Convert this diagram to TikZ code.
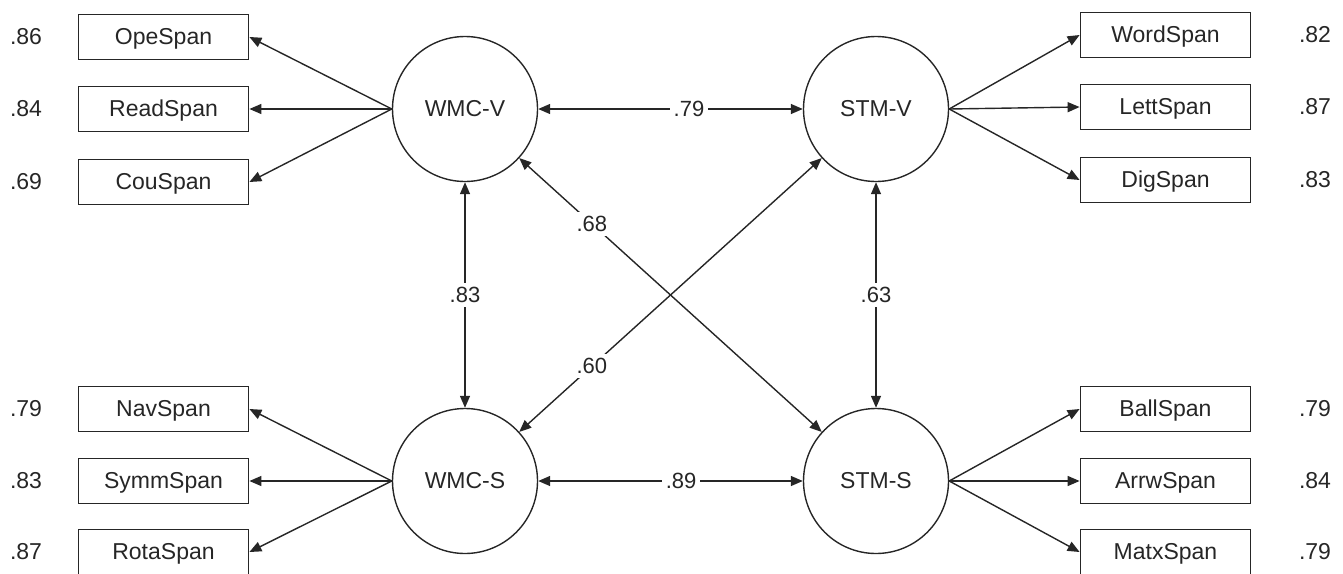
\documentclass[tikz,border=0pt]{standalone}
\usepackage{fontspec}
\setmainfont{Liberation Sans}
\usetikzlibrary{arrows.meta}
\begin{document}
\begin{tikzpicture}[x=1pt,y=-1pt,
  every node/.style={font=\fontsize{23}{27}\selectfont, text=black!85},
  obs/.style={draw=black!85, line width=1.8pt, minimum width=170pt, minimum height=45pt, inner sep=0pt, text height=16pt, text depth=2pt},
  lat/.style={draw=black!85, circle, line width=1.4pt, minimum size=145pt, inner sep=0pt},
  arr/.style={draw=black!85, line width=1.4pt, -{Triangle[length=12pt,width=10pt]}},
  biarr/.style={draw=black!85, line width=1.4pt, {Triangle[length=12pt,width=10pt]}-{Triangle[length=12pt,width=10pt]}},
  lab/.style={fill=white, inner sep=4pt, font=\fontsize{22}{26}\selectfont}]
\useasboundingbox (0,0) rectangle (1343,573);

% latent variables
\node[lat] (wmcv) at (465,109) {WMC-V};
\node[lat] (stmv) at (876,109) {STM-V};
\node[lat] (wmcs) at (465,481) {WMC-S};
\node[lat] (stms) at (876,481) {STM-S};

% left indicators
\node[obs] (ope)  at (163.5,37)  {OpeSpan};
\node[obs] (read) at (163.5,109) {ReadSpan};
\node[obs] (cou)  at (163.5,182) {CouSpan};
\node[obs] (nav)  at (163.5,409) {NavSpan};
\node[obs] (symm) at (163.5,481) {SymmSpan};
\node[obs] (rota) at (163.5,552) {RotaSpan};

% right indicators
\node[obs] (word) at (1165.5,35)  {WordSpan};
\node[obs] (lett) at (1165.5,107) {LettSpan};
\node[obs] (dig)  at (1165.5,180) {DigSpan};
\node[obs] (ball) at (1165.5,409) {BallSpan};
\node[obs] (arrw) at (1165.5,481) {ArrwSpan};
\node[obs] (matx) at (1165.5,552) {MatxSpan};

% loadings
\node (l1) at (26,37)  {.86};
\node (l2) at (26,109) {.84};
\node (l3) at (26,182) {.69};
\node (l4) at (26,409) {.79};
\node (l5) at (26,481) {.83};
\node (l6) at (26,552) {.87};
\node (r1) at (1315,35)  {.82};
\node (r2) at (1315,107) {.87};
\node (r3) at (1315,180) {.83};
\node (r4) at (1315,409) {.79};
\node (r5) at (1315,481) {.84};
\node (r6) at (1315,552) {.79};

% loading arrows
\draw[arr] (wmcv.west) -- (ope.east);
\draw[arr] (wmcv.west) -- (read.east);
\draw[arr] (wmcv.west) -- (cou.east);
\draw[arr] (wmcs.west) -- (nav.east);
\draw[arr] (wmcs.west) -- (symm.east);
\draw[arr] (wmcs.west) -- (rota.east);
\draw[arr] (stmv.east) -- (word.west);
\draw[arr] (stmv.east) -- (lett.west);
\draw[arr] (stmv.east) -- (dig.west);
\draw[arr] (stms.east) -- (ball.west);
\draw[arr] (stms.east) -- (arrw.west);
\draw[arr] (stms.east) -- (matx.west);

% correlations
\draw[biarr] (wmcv) -- node[lab,pos=0.57]{.79} (stmv);
\draw[biarr] (wmcs) -- node[lab,pos=0.54]{.89} (stms);
\draw[biarr] (wmcv) -- node[lab]{.83} (wmcs);
\draw[biarr] (stmv) -- node[lab]{.63} (stms);
\draw[biarr] (wmcv) -- node[lab,pos=0.24]{.68} (stms);
\draw[biarr] (wmcs) -- node[lab,pos=0.24]{.60} (stmv);
\end{tikzpicture}
\end{document}
